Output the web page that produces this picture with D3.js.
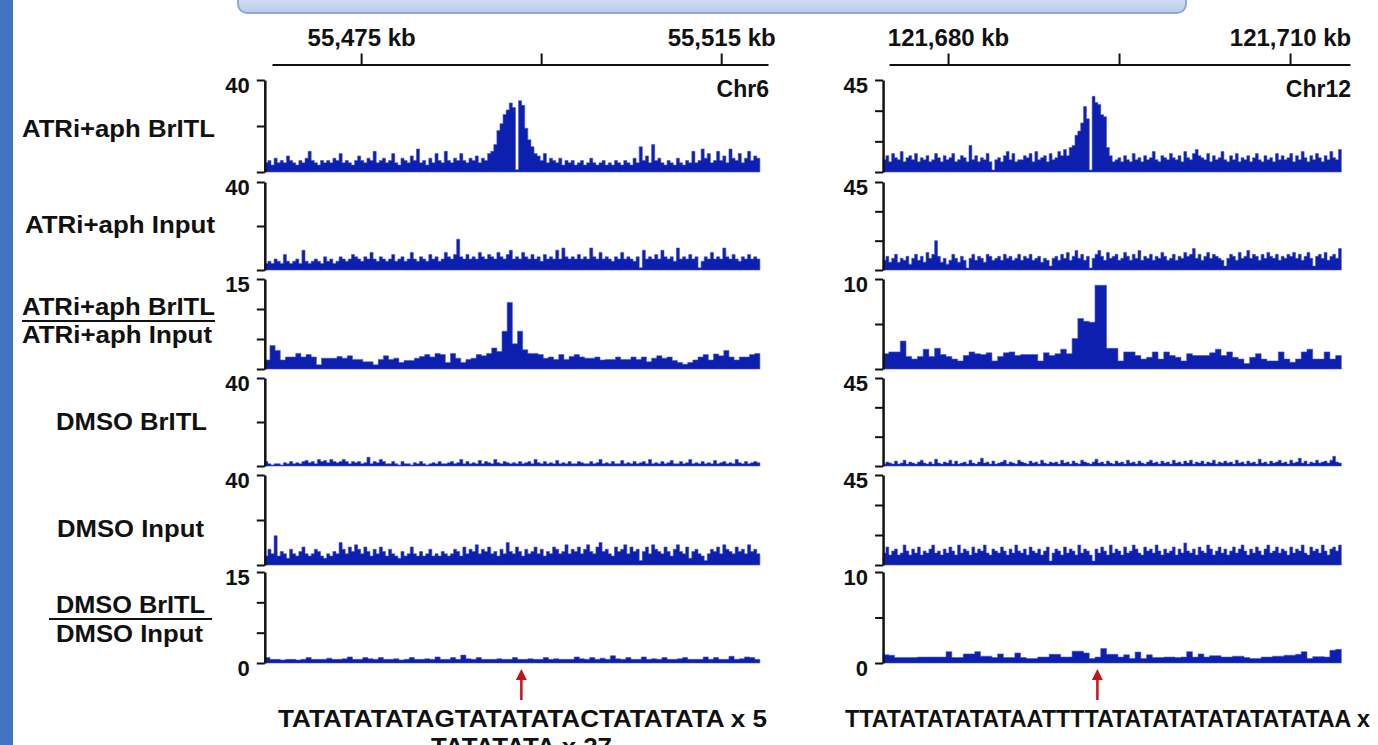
<!DOCTYPE html>
<html>
<head>
<meta charset="utf-8">
<script src="https://cdn.jsdelivr.net/npm/d3@7"></script>
<style>
  body{ margin:0; background:#fff; }
  svg{ display:block; font-family:"Liberation Sans", Arial, sans-serif; font-weight:bold; }
</style>
</head>
<body>
<svg id="chart" width="1378" height="745"></svg>
<script>
// ---- data ----
var trackNames = ["ATRi+aph BrITL", "ATRi+aph Input", ["ATRi+aph BrITL", "ATRi+aph Input"],
                  "DMSO BrITL", "DMSO Input", ["DMSO BrITL", "DMSO Input"]];

var chr6Name = "Chr6", chr12Name = "Chr12";
var chr6View = [55465.1, 55520.2], chr12View = [121674.82, 121715.26];   // extent of the kb ruler
var chr6Span = [55464.3, 55519.3], chr12Span = [121674.3, 121714.5];      // extent of the signal
var chr6Ticks = [55475, 55495, 55515], chr12Ticks = [121680, 121695, 121710];
var chr6Max = [40, 40, 15, 40, 40, 15], chr12Max = [45, 45, 10, 45, 45, 10];
var chr6Step = [20, 20, 5, 20, 20, 5], chr12Step = [15, 15, 5, 15, 15, 5];
var repeatKb = [55492.8, 121693.1];
var repeatText = [["TATATATATAGTATATATACTATATATA x 5", "TATATATA x 27"], ["TTATATATATATAATTTTATATATATATATATATAA x"]];

var chr6AtrBrITL = [
  4,5,3,6,4,5,4,7,5,4,3,5,4,6,9,5,4,3,5,4,
  5,4,6,5,8,4,5,4,3,5,7,5,4,6,5,9,4,5,6,4,
  5,8,4,3,6,5,4,7,5,10,4,5,3,6,4,8,5,4,9,5,
  4,6,5,8,5,4,6,5,7,4,6,5,8,9,12,18,21,25,27,30,
  28,1,31,29,19,14,11,8,7,5,8,4,6,5,4,6,3,5,4,5,
  3,4,5,3,4,6,4,3,4,5,3,4,3,5,4,3,5,4,3,6,
  4,11,5,7,4,12,5,6,4,3,5,4,3,6,4,3,5,4,9,4,
  5,10,6,8,4,5,9,5,7,4,10,6,5,8,4,6,9,5,7,6];
var chr6AtrInput = [
  3,4,3,5,4,3,7,4,3,4,5,3,9,4,3,4,5,4,3,6,
  4,5,3,4,6,5,4,5,7,6,5,4,6,5,8,5,4,6,5,4,
  5,7,4,5,6,4,5,8,5,4,6,5,4,7,5,6,4,5,8,6,
  5,7,14,6,5,7,5,6,5,8,6,5,7,6,5,8,6,5,7,9,
  5,6,5,8,6,5,7,5,6,4,7,5,6,5,9,5,10,6,5,6,
  5,7,5,6,5,10,6,5,8,5,6,5,4,6,5,8,5,6,5,4,
  6,1,9,5,6,5,7,5,9,6,5,6,4,10,5,6,5,7,5,6,
  1,4,6,5,8,5,6,5,10,6,5,7,5,4,6,5,7,5,6,5];
var chr6AtrRatio = [
  1.5,3.9,3.1,1.5,2.0,2.0,2.6,2.0,2.4,2.0,0.7,1.8,1.8,1.8,2.1,1.8,2.2,1.6,1.6,1.2,
  1.2,0.7,1.6,2.2,1.6,1.8,1.1,1.4,1.4,1.8,2.1,2.4,2.0,2.6,2.4,1.1,2.6,1.8,1.1,1.6,
  1.8,2.4,2.2,2.6,3.5,2.9,6.3,11.1,4.2,6.3,3.2,2.6,2.6,2.4,1.8,2.0,1.6,2.4,1.6,2.1,
  2.4,2.0,1.8,1.8,2.0,1.5,1.6,1.6,2.0,1.6,1.6,2.0,1.6,2.0,1.2,1.8,2.2,1.8,2.0,1.4,
  1.1,0.8,1.1,1.5,2.0,2.4,1.5,2.5,2.2,3.1,2.0,1.5,2.0,2.0,2.4,2.6];
var chr6DmsoBrITL = [
  2,1,0.5,1,1,0.5,1.5,1,2,1,1.5,1,2,2.5,1.5,2,1,3,2,2.5,
  1.5,3,2,1.5,2,3,2,1,2,1.5,2,1,1.5,4,1,2,1.5,3,2,1,
  1,2,1,0.5,2,1,1,0.5,1.5,1,2,1,0.5,1,1.5,1,2,1,1,1.5,
  2,1,1.5,3,1,2,1,1.5,1,2.5,1,2,1.5,1,3,1.5,1,2,1.5,1,
  1.5,1,2,1,1.5,2,1,3,1.5,1,2,1,1.5,1,2.5,1,1.5,1,2,1,
  1,2,1.5,1,1,2,1,1.5,3,1,1.5,1,2,1,1,2.5,1,1.5,1,2,
  1,1.5,2,1,3,1,1.5,1,2,1,1.5,2.5,1,1,2,1,1.5,3,1,1.5,
  1,2,1,1.5,1,2.5,1,1.5,2,1,1.5,1,3,1.5,1,2,1,1.5,2,1.5];
var chr6DmsoInput = [
  4,7,5,13,4,6,5,3,7,5,4,6,8,5,4,5,7,6,4,3,
  5,4,6,5,10,7,5,8,6,9,7,5,8,6,4,7,5,8,6,4,
  7,5,4,3,6,4,5,8,5,4,6,4,5,7,4,5,4,6,5,4,
  5,7,6,4,8,5,7,6,9,5,7,6,8,5,6,4,7,5,10,6,
  5,8,6,4,7,5,6,8,5,7,4,6,5,8,7,5,6,9,5,7,
  6,8,5,7,9,6,5,8,10,6,7,5,4,8,6,7,9,5,8,6,
  7,2,6,8,5,9,7,6,5,8,6,4,7,9,6,5,8,3,6,7,
  5,4,2,5,7,6,8,5,9,7,6,5,8,6,7,5,9,6,7,5];
var chr6DmsoRatio = [
  0.9,0.6,0.6,0.5,0.6,0.6,0.5,0.6,0.9,0.6,0.6,0.6,0.8,0.6,0.6,0.7,1.0,0.6,0.6,0.9,
  0.7,0.6,0.9,0.6,0.6,0.7,0.5,0.6,0.9,0.6,0.6,0.7,0.6,1.0,0.6,0.6,0.9,0.6,1.3,0.7,
  0.6,0.9,0.6,0.6,0.6,0.7,0.6,0.6,0.9,0.6,0.6,0.7,0.6,0.6,0.9,0.6,0.7,0.6,0.6,0.6,
  1.0,0.7,0.6,0.9,0.6,0.8,0.6,1.2,0.7,0.6,0.9,0.6,0.6,1.0,0.6,0.7,0.6,0.9,0.6,0.6,
  0.7,0.9,0.6,0.6,0.6,1.0,0.6,0.9,0.6,0.6,1.1,0.6,0.7,1.0,0.9,0.6];

var chr12AtrBrITL = [
  6,8,5,9,7,6,10,5,7,8,6,9,5,7,6,8,5,6,9,7,
  5,8,6,7,9,5,6,8,7,5,13,6,8,5,7,6,9,5,1,6,
  7,5,8,10,6,9,5,6,6,8,7,9,5,10,6,7,8,5,9,6,
  7,10,8,11,8,12,13,18,20,24,32,26,1,37,34,33,28,27,12,8,
  5,6,7,5,8,6,5,9,6,7,5,8,6,7,10,6,5,8,7,6,
  9,7,6,8,5,10,7,6,9,11,8,7,6,9,5,8,6,7,10,6,
  5,8,6,9,5,7,6,8,5,7,9,6,5,8,6,7,5,9,6,8,
  6,7,9,5,8,6,10,7,5,8,6,9,7,5,8,6,10,7,6,11];
var chr12AtrInput = [
  5,7,4,6,8,4,6,5,7,3,6,8,5,7,4,9,6,8,15,7,
  4,6,3,5,8,6,4,7,5,1,6,8,5,7,6,4,8,7,5,6,
  7,5,8,6,7,5,6,8,5,7,6,8,5,6,7,4,6,5,2,6,
  7,5,8,6,9,5,7,10,6,8,5,7,1,6,8,10,7,5,9,6,
  7,8,5,6,9,7,5,8,6,10,5,7,6,8,5,7,6,9,7,5,
  6,8,5,7,6,9,7,8,11,6,8,5,7,9,6,8,7,6,5,2,
  6,8,7,5,9,6,7,10,6,8,7,5,8,6,9,7,6,8,5,7,
  6,8,7,9,6,8,5,7,9,6,2,7,8,6,9,5,7,8,6,11];
var chr12AtrRatio = [
  1.7,1.9,1.9,3.1,1.4,1.1,1.4,2.2,1.4,2.3,1.6,1.4,1.1,0.9,1.5,1.9,1.7,1.6,1.8,0.9,
  1.4,1.8,1.9,1.5,1.6,1.6,1.6,0.9,1.8,1.5,1.7,2.2,1.7,3.4,5.6,5.3,5.2,9.3,9.3,2.3,
  2.3,0.9,1.9,1.9,1.5,1.1,1.3,1.9,1.1,1.9,1.5,1.3,0.9,1.7,1.5,1.5,1.5,1.8,2.2,1.5,
  1.9,1.3,1.1,0.6,1.3,1.7,1.1,0.9,0.9,1.9,1.1,0.75,1.1,1.9,2.2,1.1,1.1,1.9,1.1,1.5];
var chr12DmsoBrITL = [
  1,2,1.5,1,2.5,1,1.5,3,1,2,1.5,1,2,3,1.5,1,2,1,3.5,1.5,
  1,2,1.5,3,1,2.5,1,1.5,2,1,3,1.5,1,2,4,1.5,2,1,2.5,1,
  1.5,2,3,1,2,1.5,1,3,2,1.5,1,2.5,1.5,2,1,3,1.5,1,2,1.5,
  2,1,3,1.5,2,1,2.5,1.5,1,3,2,1.5,1,2,3.5,1.5,2,1,2.5,1.5,
  1,2.5,1.5,2,1,3,1.5,2,1,2.5,1.5,1,2,3,1.5,2,1,2.5,1.5,2,
  1,3,1.5,2,1,2.5,1.5,3,1,2,1.5,2.5,1,2,1.5,3,1,2,1.5,2.5,
  1.5,2,1,3,1.5,2,1,2.5,1.5,2,1,3.5,1.5,2,1,2.5,1.5,2,3,1.5,
  2,1,3,1.5,2,4,1.5,2.5,1,2,1.5,3,1.5,2,2.5,1.5,3,5,2,1.5];
var chr12DmsoInput = [
  6,9,5,7,8,5,6,10,7,5,8,6,9,5,7,6,8,10,6,7,
  5,8,6,9,7,5,10,6,8,7,5,9,6,8,7,10,6,5,8,7,
  6,9,7,5,8,6,10,7,6,8,5,9,7,6,8,5,7,9,2,6,
  8,7,5,9,6,8,7,5,10,6,8,7,5,2,8,6,9,7,5,10,
  6,8,7,5,9,6,7,10,8,6,5,9,7,8,6,10,7,5,8,6,
  7,9,5,8,6,11,7,6,8,5,9,7,6,10,8,5,7,9,6,8,
  5,7,9,6,8,10,7,5,8,6,9,7,5,8,10,6,7,9,6,8,
  7,5,9,6,8,7,10,6,5,9,7,8,6,10,7,5,8,9,7,10];
var chr12DmsoRatio = [
  0.9,0.85,0.6,0.6,0.6,0.6,0.65,0.65,0.65,0.65,0.65,1.25,0.6,0.6,1.0,1.0,1.25,0.75,0.75,0.6,
  1.0,0.6,0.6,1.1,0.6,0.5,0.5,0.65,0.65,0.95,0.95,0.65,0.65,1.3,1.3,1.1,0.5,0.65,1.6,0.95,
  0.95,0.65,0.9,0.5,1.2,0.5,0.9,0.6,0.6,0.65,0.65,0.6,0.65,1.25,0.65,1.0,0.65,0.8,0.8,0.65,
  0.65,0.75,0.75,0.6,0.5,0.5,0.65,0.65,0.75,0.75,0.85,0.85,0.95,1.25,0.5,0.7,0.7,0.65,1.4,1.5];

// ---- layout ----
var W = 1378, H = 745;
var trackTop = [80, 182, 279, 378, 475, 572];
var trackBottom = [172, 270, 369, 466, 565, 663];
var signalFill = "#0c1fae", signalEdge = "#4856cc", arrowRed = "#c0151c", ink = "#111";

var svg = d3.select("#chart");

// slide decorations
svg.append("rect").attr("x", 0).attr("y", 0).attr("width", 13).attr("height", H).attr("fill", "#4472c4");
var grad = svg.append("defs").append("linearGradient").attr("id", "bar").attr("x1", 0).attr("y1", 0).attr("x2", 0).attr("y2", 1);
grad.append("stop").attr("offset", "0%").attr("stop-color", "#f2f6fc");
grad.append("stop").attr("offset", "100%").attr("stop-color", "#b9cbeb");
svg.append("rect").attr("x", 238).attr("y", -20).attr("width", 948).attr("height", 33)
  .attr("rx", 9).attr("fill", "url(#bar)").attr("stroke", "#8eaadb").attr("stroke-width", 2);

var panels = [
  { name: chr6Name, view: chr6View, span: chr6Span, ticks: chr6Ticks, max: chr6Max, step: chr6Step,
    px: [272, 768], repeat: repeatKb[0], seq: repeatText[0], seqX: [278, 431], seqLen: [489, 181],
    series: [chr6AtrBrITL, chr6AtrInput, chr6AtrRatio, chr6DmsoBrITL, chr6DmsoInput, chr6DmsoRatio] },
  { name: chr12Name, view: chr12View, span: chr12Span, ticks: chr12Ticks, max: chr12Max, step: chr12Step,
    px: [889, 1350], repeat: repeatKb[1], seq: repeatText[1], seqX: [845], seqLen: [525],
    series: [chr12AtrBrITL, chr12AtrInput, chr12AtrRatio, chr12DmsoBrITL, chr12DmsoInput, chr12DmsoRatio] }
];

panels.forEach(function(p){
  var g = svg.append("g");
  var x = d3.scaleLinear().domain(p.view).range(p.px);

  // kb ruler on top
  var ruler = g.append("g").attr("transform", "translate(0,64.5)")
    .call(d3.axisTop(x).tickValues(p.ticks).tickSize(11).tickSizeOuter(0).tickPadding(8)
      .tickFormat(function(d, i){ return i === 1 ? "" : d3.format(",")(d) + " kb"; }));
  ruler.attr("font-size", 24).attr("font-family", null);
  ruler.select(".domain").attr("stroke", ink).attr("stroke-width", 2);
  ruler.selectAll(".tick line").attr("stroke", ink).attr("stroke-width", 2);
  ruler.selectAll(".tick text").attr("fill", ink);

  g.append("text").attr("x", x(p.view[1]) + 1).attr("y", 97).attr("text-anchor", "end")
    .attr("font-size", 23).attr("fill", ink).text(p.name);

  var x0 = x(p.span[0]);
  p.series.forEach(function(vals, k){
    var y = d3.scaleLinear().domain([0, p.max[k]]).range([trackBottom[k], trackTop[k]]);
    var w = (p.span[1] - p.span[0]) / vals.length;
    var pts = vals.map(function(v, i){ return { kb: p.span[0] + i * w, v: v }; });
    pts.push({ kb: p.span[1], v: vals[vals.length - 1] });

    var area = d3.area().curve(d3.curveStepAfter)
      .x(function(d){ return x(d.kb); })
      .y0(y(0))
      .y1(function(d){ return y(d.v); });
    g.append("path").datum(pts).attr("d", area)
      .attr("fill", signalFill).attr("stroke", signalEdge).attr("stroke-width", 0.6);

    var max = p.max[k];
    var yAxis = g.append("g").attr("transform", "translate(" + x0 + ",0)")
      .call(d3.axisLeft(y).tickValues(d3.range(0, max + 0.001, p.step[k])).tickSize(8).tickSizeOuter(0).tickPadding(7)
        .tickFormat(function(d){ return (d === max || (k === 5 && d === 0)) ? d : ""; }));
    yAxis.attr("font-size", 22).attr("font-family", null);
    yAxis.select(".domain").attr("stroke", ink).attr("stroke-width", 2.5);
    yAxis.selectAll(".tick line").attr("stroke", ink).attr("stroke-width", 2);
    yAxis.selectAll(".tick text").attr("fill", ink).attr("dy", "0.58em");
  });

  // repeat marker
  var ax = x(p.repeat);
  g.append("line").attr("x1", ax).attr("x2", ax).attr("y1", 700).attr("y2", 677)
    .attr("stroke", arrowRed).attr("stroke-width", 2.5);
  g.append("path").attr("d", "M" + (ax - 5.5) + ",680L" + (ax + 5.5) + ",680L" + ax + ",669Z").attr("fill", arrowRed);

  p.seq.forEach(function(s, i){
    g.append("text").attr("x", p.seqX[i]).attr("y", 727 + i * 28).attr("font-size", 24).attr("fill", ink)
      .attr("textLength", p.seqLen[i]).attr("lengthAdjust", "spacingAndGlyphs").text(s);
  });
});

// track names on the left
var labelPos = [
  { x: 22, y: [137], len: [193] },
  { x: 25, y: [233], len: [190] },
  { x: 22, y: [315, 343], len: [193, 190], rule: [22, 215, 321] },
  { x: 56, y: [430], len: [151] },
  { x: 57, y: [537], len: [147] },
  { x: 56, y: [613, 642], len: [149, 147], rule: [49, 212, 619] }
];
trackNames.forEach(function(name, k){
  var lp = labelPos[k];
  var lines = Array.isArray(name) ? name : [name];
  lines.forEach(function(t, i){
    svg.append("text").attr("x", lp.x).attr("y", lp.y[i]).attr("font-size", 24).attr("fill", ink)
      .attr("textLength", lp.len[i]).attr("lengthAdjust", "spacingAndGlyphs").text(t);
  });
  if (lp.rule) {
    svg.append("line").attr("x1", lp.rule[0]).attr("x2", lp.rule[1]).attr("y1", lp.rule[2]).attr("y2", lp.rule[2])
      .attr("stroke", ink).attr("stroke-width", 2);
  }
});
</script>
</body>
</html>
